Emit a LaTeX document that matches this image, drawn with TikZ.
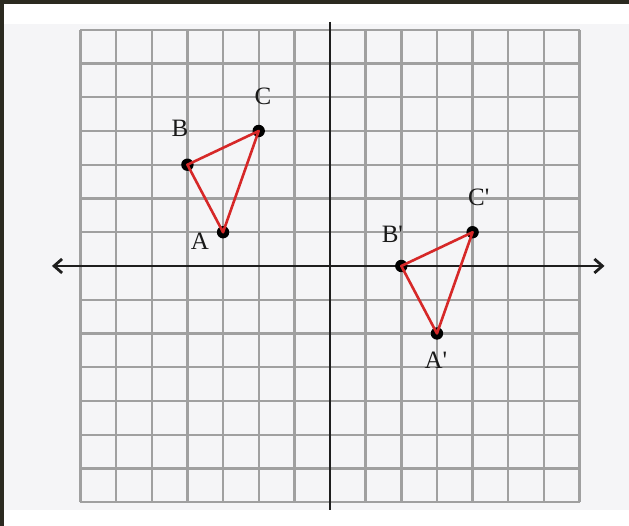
\documentclass[tikz,border=0pt]{standalone}
\usepackage{fontspec}
\setmainfont{Liberation Serif}
\usetikzlibrary{arrows.meta}
\definecolor{framedark}{RGB}{43, 42, 32}
\definecolor{paperbg}{RGB}{245, 245, 247}
\definecolor{gridgray}{RGB}{160, 160, 160}
\definecolor{trired}{RGB}{214, 40, 40}
\definecolor{axisdark}{RGB}{30, 30, 30}

\begin{document}
\begin{tikzpicture}[x=17.825pt, y=16.875pt,
    gridline/.style={gridgray, line width=1.2pt},
    axisline/.style={axisdark, line width=1.4pt},
    dot/.style={circle, fill=black, inner sep=0pt, minimum size=6.2pt},
    sideline/.style={trired, line width=1.3pt, line join=round},
    ptlabel/.style={font=\fontsize{12.5}{14}\selectfont, text=black!90, inner sep=0pt}]
    % Canvas and dark frame
    \useasboundingbox (-9.257,-7.704) rectangle (8.387,7.881);
    \fill[white] (-9.257,-7.704) rectangle (8.387,7.881);
    \fill[paperbg] (-9.145,-7.230) rectangle (8.387,7.170);
    \fill[framedark] (-9.257,7.762) rectangle (8.387,7.881);
    \fill[framedark] (-9.257,-7.704) rectangle (-9.145,7.881);

    % Grid (14 x 14)
    \foreach \k in {-7,...,7} {
        \draw[gridline] (\k,-7) -- (\k,7);
        \draw[gridline] (-7,\k) -- (7,\k);
    }

    % Axes
    \coordinate (xleft) at (-7.8,0);
    \coordinate (xright) at (7.7,0);
    \coordinate (ytop) at (0,7.23);
    \coordinate (ybottom) at (0,-7.23);
    \draw[axisline, {Straight Barb[length=4pt, width=7pt]}-{Straight Barb[length=4pt, width=7pt]}] (xleft) -- (xright);
    \draw[axisline] (ytop) -- (ybottom);

    % Triangle ABC
    \node[dot] (A) at (-3,1) {};
    \node[dot] (B) at (-4,3) {};
    \node[dot] (C) at (-2,4) {};
    \draw[sideline] (A.center) -- (B.center) -- (C.center) -- cycle;
    \node[ptlabel] (labA) at (-3.65,0.72) {A};
    \node[ptlabel] (labB) at (-4.21,4.09) {B};
    \node[ptlabel] (labC) at (-1.88,5.02) {C};

    % Image A'B'C'
    \node[dot] (A1) at (3,-2) {};
    \node[dot] (B1) at (2,0) {};
    \node[dot] (C1) at (4,1) {};
    \draw[sideline] (A1.center) -- (B1.center) -- (C1.center) -- cycle;
    \node[ptlabel] (labA1) at (2.97,-2.79) {A\textquotesingle};
    \node[ptlabel] (labB1) at (1.75,0.95) {B\textquotesingle};
    \node[ptlabel] (labC1) at (4.17,2.04) {C\textquotesingle};
\end{tikzpicture}
\end{document}
